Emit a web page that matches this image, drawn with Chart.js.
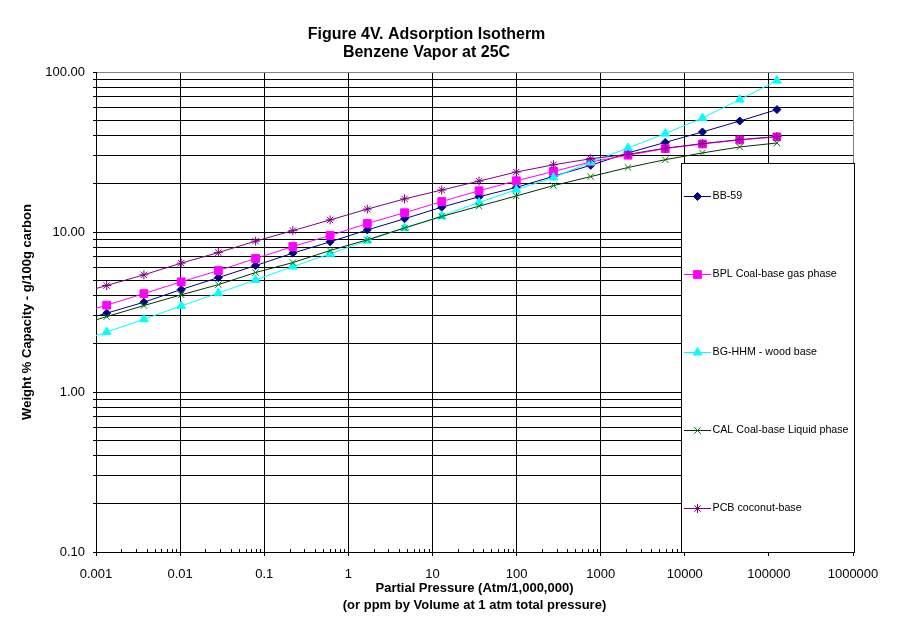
<!DOCTYPE html>
<html>
<head>
<meta charset="utf-8">
<script src="https://cdn.jsdelivr.net/npm/chart.js@4.4.1/dist/chart.umd.min.js"></script>
<style>
  html, body { margin: 0; padding: 0; background: #fff; }
  #wrap { width: 912px; height: 623px; }
</style>
</head>
<body>
<div id="wrap"><canvas id="c" width="912" height="623"></canvas></div>
<script>
// Partial pressure (x) values; the first one lies just left of the axis (line runs off the edge)
const pressures = [0.000483, 0.00134, 0.00371, 0.0103, 0.0285, 0.0790, 0.219, 0.607, 1.68, 4.66, 12.9, 35.8, 99.3, 275, 762, 2113, 5856, 16230, 44980, 124700];

const seriesNames = ['BB-59', 'BPL Coal-base gas phase', 'BG-HHM - wood base', 'CAL Coal-base Liquid phase', 'PCB coconut-base'];

const bb59   = [2.66, 3.11, 3.64, 4.37, 5.19, 6.17, 7.38, 8.68, 10.3, 12.1, 14.3, 16.6, 19.0, 22.3, 26.1, 31.2, 36.3, 42.2, 49.4, 58.2];
const bplGas = [2.96, 3.49, 4.12, 4.88, 5.74, 6.83, 8.12, 9.51, 11.3, 13.2, 15.5, 18.1, 20.9, 23.9, 27.4, 30.2, 33.2, 35.5, 37.6, 39.3];
const bgHhm  = [1.97, 2.37, 2.85, 3.45, 4.15, 5.02, 6.08, 7.30, 8.85, 10.6, 12.6, 15.3, 18.4, 21.9, 27.3, 33.5, 41.2, 51.6, 67.2, 88.4];
const calLiq = [2.52, 2.96, 3.47, 4.05, 4.69, 5.58, 6.44, 7.66, 8.94, 10.6, 12.5, 14.5, 16.8, 19.5, 22.2, 25.3, 28.3, 31.2, 34.0, 36.0];
const pcbCoco= [3.97, 4.63, 5.40, 6.39, 7.44, 8.77, 10.2, 11.9, 13.9, 16.1, 18.3, 20.8, 23.7, 26.3, 28.7, 30.6, 33.4, 35.7, 37.8, 39.5];

const xTickValues = [0.001, 0.01, 0.1, 1, 10, 100, 1000, 10000, 100000, 1000000];
const xTickLabels = ['0.001', '0.01', '0.1', '1', '10', '100', '1000', '10000', '100000', '1000000'];
const yDecades = [0.1, 1, 10, 100];
const yTickLabels = ['0.10', '1.00', '10.00', '100.00'];

const FONT = "'Liberation Sans', Arial, sans-serif";

function pts(arr) { return pressures.map((x, i) => ({ x: x, y: arr[i] })); }

const styles = [
  { line: '#000080', pt: '#000080', fill: '#000080', shape: 'rectRot', r: 4 },
  { line: '#FF00FF', pt: '#FF00FF', fill: '#FF00FF', shape: 'rect', r: 5.5 },
  { line: '#00FFFF', pt: '#00FFFF', fill: '#00FFFF', shape: 'triangle', r: 5 },
  { line: '#003300', pt: '#008000', fill: '#008000', shape: 'crossRot', r: 4.5 },
  { line: '#800080', pt: '#800080', fill: '#800080', shape: 'star', r: 4.5 }
];
const seriesData = [bb59, bplGas, bgHhm, calLiq, pcbCoco];

const datasets = seriesData.map((arr, i) => ({
  label: seriesNames[i],
  data: pts(arr),
  borderColor: styles[i].line,
  backgroundColor: styles[i].fill,
  borderWidth: 1,
  pointStyle: styles[i].shape,
  pointRadius: styles[i].r,
  pointBorderColor: styles[i].pt,
  pointBackgroundColor: styles[i].fill,
  pointBorderWidth: 1,
  tension: 0,
  order: 5 - i
}));

const minorTicks = {
  id: 'minorTicks',
  beforeDatasetsDraw(chart) {
    const ctx = chart.ctx, xs = chart.scales.x, b = chart.chartArea.bottom;
    ctx.save();
    ctx.strokeStyle = '#000';
    ctx.lineWidth = 1;
    ctx.beginPath();
    for (let d = 0; d < xTickValues.length - 1; d++) {
      for (let m = 2; m <= 9; m++) {
        const px = Math.round(xs.getPixelForValue(xTickValues[d] * m)) + 0.5;
        ctx.moveTo(px, b);
        ctx.lineTo(px, b - 3);
      }
    }
    ctx.stroke();
    ctx.restore();
  }
};

const boxLegend = {
  id: 'boxLegend',
  afterDraw(chart) {
    const ctx = chart.ctx, ca = chart.chartArea;
    const left = ca.right - 171.5, top = 163.5, w = 173, h = ca.bottom - 163;
    ctx.save();
    ctx.fillStyle = '#fff';
    ctx.fillRect(left, top, w, h);
    ctx.strokeStyle = '#000';
    ctx.lineWidth = 1;
    ctx.strokeRect(left, top, w, h);
    ctx.font = '10.7px ' + FONT;
    ctx.textBaseline = 'middle';
    ctx.textAlign = 'left';
    chart.data.datasets.forEach((ds, i) => {
      const y = Math.round(top + 32.5 + i * 78) + 0.5;
      const x0 = left + 2.5, x1 = left + 29.5;
      ctx.strokeStyle = ds.borderColor;
      ctx.lineWidth = 1;
      ctx.beginPath();
      ctx.moveTo(x0, y);
      ctx.lineTo(x1, y);
      ctx.stroke();
      ctx.save();
      ctx.fillStyle = ds.pointBackgroundColor;
      ctx.strokeStyle = ds.pointBorderColor;
      Chart.helpers.drawPoint(ctx, {
        pointStyle: ds.pointStyle,
        radius: ds.pointRadius,
        rotation: 0,
        borderWidth: 1
      }, (x0 + x1) / 2, y);
      ctx.restore();
      ctx.fillStyle = '#000';
      ctx.fillText(ds.label, left + 31, y);
    });
    ctx.restore();
  }
};

Chart.defaults.color = '#000';
Chart.defaults.font.family = FONT;

new Chart(document.getElementById('c'), {
  type: 'line',
  data: { datasets: datasets },
  plugins: [minorTicks, boxLegend],
  options: {
    responsive: false,
    animation: false,
    devicePixelRatio: 1,
    layout: { padding: { left: 0, right: 59, top: 0, bottom: 0 } },
    plugins: {
      legend: { display: false },
      tooltip: { enabled: false },
      title: {
        display: true,
        text: ['Figure 4V. Adsorption Isotherm', 'Benzene Vapor at 25C'],
        color: '#000',
        font: { family: FONT, size: 16, weight: 'bold', lineHeight: 1.15 },
        padding: { top: 25, bottom: 10.2 }
      }
    },
    scales: {
      x: {
        type: 'logarithmic',
        position: 'bottom',
        min: 0.001,
        max: 1000000,
        afterBuildTicks(scale) {
          scale.ticks = xTickValues.map(v => ({ value: v }));
        },
        afterFit(scale) { scale.height = 71; },
        ticks: {
          autoSkip: false,
          maxRotation: 0,
          padding: 11,
          font: { family: FONT, size: 13 },
          callback(value) {
            const i = xTickValues.findIndex(v => Math.abs(Math.log10(v) - Math.log10(value)) < 1e-6);
            return i >= 0 ? xTickLabels[i] : '';
          }
        },
        grid: {
          color: ctx => (ctx.tick && ctx.tick.value === 1000000) ? '#808080' : '#000',
          tickColor: '#000',
          lineWidth: 1,
          tickLength: 4
        },
        border: { color: '#000', width: 1 },
        title: {
          display: true,
          text: ['Partial Pressure (Atm/1,000,000)', '(or ppm by Volume at 1 atm total pressure)'],
          color: '#000',
          font: { family: FONT, size: 13, weight: 'bold', lineHeight: 17 / 13 },
          padding: { top: 0, bottom: 9 }
        }
      },
      y: {
        type: 'logarithmic',
        position: 'left',
        min: 0.1,
        max: 100,
        afterBuildTicks(scale) {
          const t = [];
          yDecades.forEach((d, k) => {
            if (k === yDecades.length - 1) { t.push({ value: d }); return; }
            for (let m = 1; m <= 9; m++) t.push({ value: d * m });
          });
          scale.ticks = t;
        },
        afterFit(scale) { scale.width = 96; },
        ticks: {
          autoSkip: false,
          padding: 8,
          font: { family: FONT, size: 13 },
          callback(value) {
            const i = yDecades.findIndex(v => Math.abs(Math.log10(v) - Math.log10(value)) < 1e-6);
            return i >= 0 ? yTickLabels[i] : '';
          }
        },
        grid: {
          color: ctx => (ctx.tick && Math.abs(ctx.tick.value - 100) < 1e-9) ? '#808080' : '#000',
          tickColor: '#000',
          lineWidth: 1,
          tickLength: 3
        },
        border: { color: '#000', width: 1 },
        title: {
          display: true,
          text: 'Weight % Capacity - g/100g carbon',
          color: '#000',
          font: { family: FONT, size: 13, weight: 'bold', lineHeight: 1.2 },
          padding: { top: 20, bottom: 0 }
        }
      }
    }
  }
});
</script>
</body>
</html>
